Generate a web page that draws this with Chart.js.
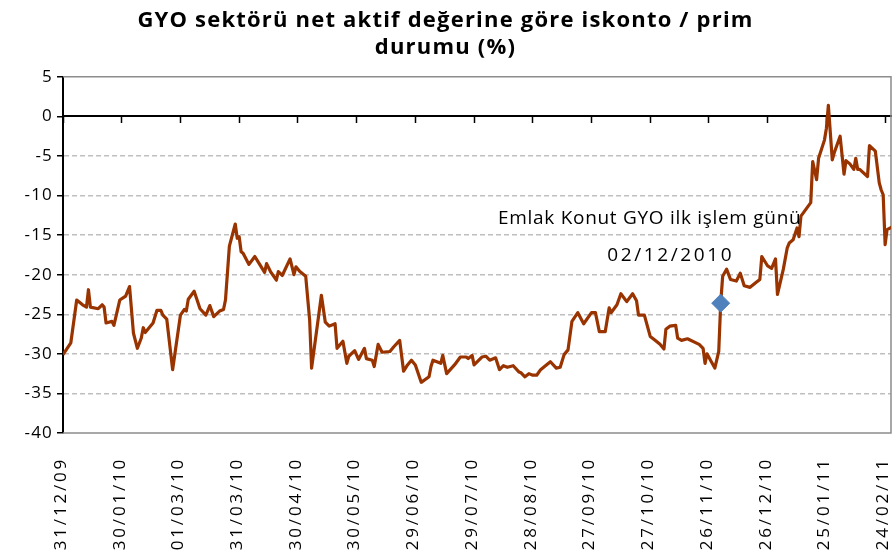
<!DOCTYPE html>
<html>
<head>
<meta charset="utf-8">
<script src="https://cdn.jsdelivr.net/npm/chart.js@4/dist/chart.umd.min.js"></script>
<style>
html,body{margin:0;padding:0;background:#fff;}
#wrap{width:893px;height:560px;}
</style>
</head>
<body>
<div id="wrap"><canvas id="c" width="893" height="560"></canvas></div>
<script>
// ---- data ----
const titleLines = ['GYO sektörü net aktif değerine göre iskonto / prim', 'durumu (%)'];
const tickLabels = ['31/12/09','30/01/10','01/03/10','31/03/10','30/04/10','30/05/10','29/06/10','29/07/10','28/08/10','27/09/10','27/10/10','26/11/10','26/12/10','25/01/11','24/02/11'];
// days since 31/12/2009
const dayOffsets = [0,4,7,10,12,13,14,18,20,21,22,25,26,29,32,34,36,38,40,41,42,44,46,48,50,51,53,56,60,62,63,64,67,70,73,75,77,80,
82,83,85,88,89,90,91,92,95,98,100,103,104,106,109,110,112,116,118,119,121,124,126,127,132,134,136,139,140,143,145,146,149,151,154,
155,158,159,161,163,167,169,172,174,176,178,180,183,187,188,189,193,194,196,200,203,206,207,209,210,214,216,218,221,223,225,227,230,233,
234,236,238,240,242,244,246,249,252,254,256,258,260,263,266,270,272,274,277,279,280,283,285,288,291,293,294,297,300,302,305,307,308,310,313,314,316,319,325,327,328,329,331,333,335,336,
337,339,341,344,346,348,351,354,356,357,360,362,364,365,368,370,371,373,375,376,377,382,383,385,386,389,390,391,393,394,397,399,400,402,404,405,406,407,411,412,415,417,418,419,420,421,424];
const discountValues = [-30.1,-28.6,-23.2,-23.8,-24.1,-21.9,-24.1,-24.3,-23.8,-24.1,-26.1,-25.9,-26.4,-23.2,-22.7,-21.5,-27.4,-29.3,-28.0,-26.7,-27.3,-26.7,-26.1,-24.5,-24.5,-25.1,-25.6,-32.0,-25.1,-24.4,-24.6,-23.1,-22.1,-24.3,-25.1,-23.9,-25.3,-24.6,
-24.4,-23.2,-16.4,-13.6,-15.4,-15.2,-17.1,-17.3,-18.7,-17.7,-18.5,-19.7,-18.6,-19.6,-20.7,-19.6,-20.1,-18.0,-20.0,-19.0,-19.6,-20.2,-25.7,-31.8,-22.6,-26.0,-26.5,-26.2,-29.3,-28.4,-31.2,-30.3,-29.6,-30.7,-29.3,
-30.6,-30.8,-31.6,-28.8,-29.8,-29.7,-29.1,-28.3,-32.2,-31.4,-30.8,-31.4,-33.6,-32.9,-31.6,-30.8,-31.2,-30.2,-32.5,-31.4,-30.4,-30.4,-30.6,-30.2,-31.4,-30.4,-30.3,-30.8,-30.5,-32.0,-31.5,-31.7,-31.5,-32.3,
-32.4,-32.9,-32.5,-32.7,-32.7,-32.0,-31.6,-31.0,-31.8,-31.7,-30.1,-29.5,-25.9,-24.8,-26.2,-24.8,-24.8,-27.2,-27.2,-24.2,-24.8,-23.8,-22.4,-23.4,-22.4,-23.3,-25.1,-25.1,-27.8,-28.2,-28.8,-29.4,-26.9,-26.5,-26.4,-28.0,-28.3,-28.1,-28.8,-29.3,-31.2,-30.0,-30.9,-31.8,-29.7,-23.6,
-20.2,-19.3,-20.6,-20.8,-19.8,-21.4,-21.6,-21.0,-20.6,-17.7,-18.9,-19.2,-18.0,-22.5,-19.3,-16.6,-16.0,-15.6,-14.1,-15.2,-12.6,-10.9,-5.7,-8.0,-5.3,-3.0,-1.5,1.4,-5.5,-4.6,-2.5,-7.3,-5.6,-6.0,-6.7,-5.3,-6.7,-6.7,-7.6,-3.7,-4.4,-8.4,-9.3,-9.9,-16.2,-14.3,-13.9];
const eventDay = 336;      // 02/12/2010
const eventValue = -23.6;
const eventLines = ['Emlak Konut GYO ilk işlem günü', '02/12/2010'];
const yTicks = [5,0,-5,-10,-15,-20,-25,-30,-35,-40];

// ---- helpers ----
const baseDate = Date.UTC(2009, 11, 31);
function labelToDay(s){
  const [d,m,y] = s.split('/').map(Number);
  return Math.round((Date.UTC(2000 + y, m - 1, d) - baseDate) / 86400000);
}
const tickDays = tickLabels.map(labelToDay);
const linePoints = dayOffsets.map((d, i) => ({x: d, y: discountValues[i]}));

const FONT = '"Open Sans", "DejaVu Sans", sans-serif';

const spacing = {
  id: 'spacing',
  beforeInit(chart){ chart.ctx.letterSpacing = '1.2px'; },
  beforeUpdate(chart){ chart.ctx.letterSpacing = '1.2px'; },
  beforeDraw(chart){ chart.ctx.letterSpacing = '1.2px'; }
};

const plotBorder = {
  id: 'plotBorder',
  beforeDatasetsDraw(chart){
    const {ctx, chartArea: a} = chart;
    ctx.save();
    ctx.strokeStyle = '#8C8C8C';
    ctx.lineWidth = 1.5;
    ctx.beginPath();
    ctx.moveTo(a.left, a.top); ctx.lineTo(a.right, a.top);
    ctx.lineTo(a.right, a.bottom); ctx.lineTo(a.left, a.bottom);
    ctx.stroke();
    ctx.restore();
  }
};

const textLayer = {
  id: 'textLayer',
  afterDraw(chart){
    const {ctx} = chart;
    const xs = chart.scales.x, ys = chart.scales.y;
    // x tick labels (rotated, bottom-to-top)
    ctx.save();
    ctx.fillStyle = '#000';
    ctx.font = '17px ' + FONT;
    ctx.letterSpacing = '2.8px';
    ctx.textAlign = 'right';
    ctx.textBaseline = 'middle';
    tickLabels.forEach((lab, i) => {
      const px = xs.getPixelForValue(tickDays[i]);
      ctx.save();
      ctx.translate(px - 2, 457);
      ctx.rotate(-Math.PI / 2);
      ctx.fillText(lab, 0, 0);
      ctx.restore();
    });
    ctx.restore();
    // annotation
    const ex = xs.getPixelForValue(eventDay), ey = ys.getPixelForValue(eventValue);
    ctx.save();
    ctx.fillStyle = '#000';
    ctx.textAlign = 'center';
    ctx.textBaseline = 'middle';
    ctx.font = '19px ' + FONT;
    ctx.letterSpacing = '0.7px';
    ctx.fillText(eventLines[0], ex - 71, ey - 85);
    ctx.letterSpacing = '2.6px';
    ctx.fillText(eventLines[1], ex - 50, ey - 48);
    ctx.restore();
  }
};

function build(){
  new Chart(document.getElementById('c'), {
    type: 'line',
    data: {
      datasets: [
        {
          label: eventLines[1],
          data: [{x: eventDay, y: eventValue}],
          showLine: false,
          pointStyle: 'rectRot',
          pointRadius: 9,
          pointBackgroundColor: '#4F81BD',
          pointBorderColor: '#4F81BD',
          pointBorderWidth: 1,
          order: 0
        },
        {
          label: 'GYO',
          data: linePoints,
          borderColor: '#993300',
          borderWidth: 3.2,
          pointRadius: 0,
          tension: 0,
          fill: false,
          borderJoinStyle: 'round',
          order: 1
        }
      ]
    },
    options: {
      responsive: false,
      animation: false,
      devicePixelRatio: 1,
      layout: {autoPadding: false, padding: {left: 0, right: 2, top: 0, bottom: 127}},
      plugins: {
        legend: {display: false},
        tooltip: {enabled: false},
        title: {
          display: true,
          text: titleLines,
          color: '#000',
          font: {family: FONT, size: 22, weight: 'bold', lineHeight: 1.2},
          padding: {top: 8, bottom: 16}
        }
      },
      scales: {
        x: {
          type: 'linear',
          min: 0,
          max: 423,
          position: {y: 0},
          afterBuildTicks(scale){ scale.ticks = tickDays.map(v => ({value: v})); },
          afterFit(scale){ scale.paddingLeft = 0; scale.paddingRight = 0; },
          ticks: {display: false},
          grid: {display: true, drawOnChartArea: false, drawTicks: true, tickLength: 6, tickColor: '#000', tickWidth: 1.5},
          border: {display: true, color: '#000', width: 2}
        },
        y: {
          type: 'linear',
          min: -40,
          max: 5,
          afterBuildTicks(scale){ scale.ticks = yTicks.map(v => ({value: v})); },
          afterFit(scale){ scale.width = 63; },
          ticks: {color: '#000', font: {family: FONT, size: 17}, padding: 4},
          grid: {
            color: c => (c.tick && (c.tick.value === 5 || c.tick.value === 0 || c.tick.value === -40)) ? 'rgba(0,0,0,0)' : '#BFBFBF',
            lineWidth: 1.5,
            drawTicks: true,
            tickLength: 6,
            tickColor: '#000',
            tickWidth: 1.5
          },
          border: {display: true, color: '#000', width: 2, dash: [5, 3]}
        }
      }
    },
    plugins: [spacing, plotBorder, textLayer]
  });
}
Promise.all([
  document.fonts.load('bold 22px "Open Sans"'),
  document.fonts.load('17px "Open Sans"')
]).then(build, build);
</script>
</body>
</html>
